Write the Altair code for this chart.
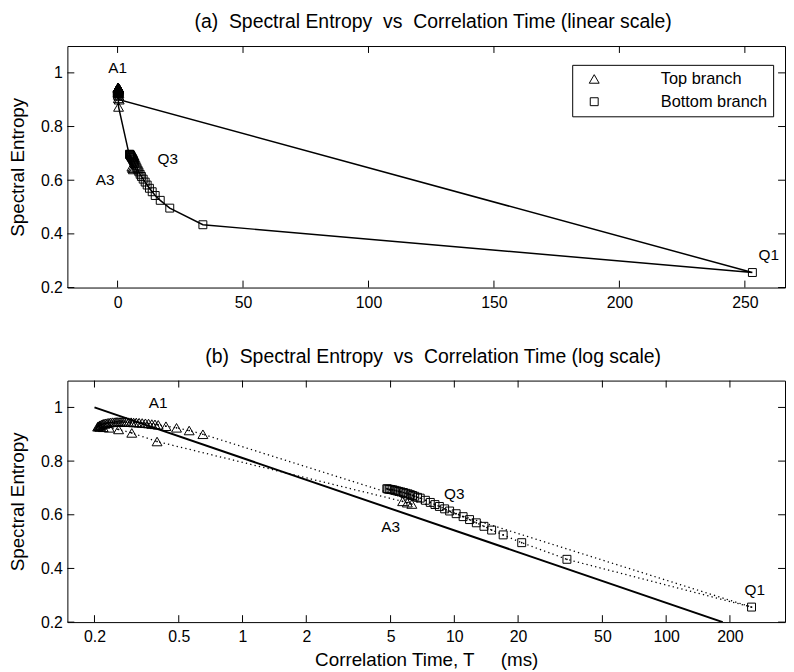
import altair as alt
import pandas as pd

FONT = "Liberation Sans"

# ---- data ----
# Top branch (triangles), in path order: A3 -> lower arc -> A1 cluster -> right end
top_T = [6.3, 6.0, 5.7, 0.395, 0.30, 0.26, 0.235, 0.22, 0.212,
         0.207, 0.209, 0.211, 0.213, 0.216, 0.219, 0.222, 0.226, 0.230, 0.234,
         0.238, 0.243, 0.248, 0.253, 0.258, 0.264, 0.270, 0.276, 0.283, 0.290,
         0.298, 0.306, 0.315, 0.325, 0.336, 0.348, 0.360, 0.373, 0.386, 0.400,
         0.435, 0.488, 0.56, 0.65]
top_S = [0.640, 0.645, 0.650, 0.873, 0.905, 0.918, 0.924, 0.926, 0.927,
         0.928, 0.930, 0.932, 0.934, 0.936, 0.938, 0.940, 0.941, 0.942, 0.943,
         0.944, 0.945, 0.945, 0.946, 0.946, 0.946, 0.946, 0.946, 0.946, 0.945,
         0.945, 0.944, 0.944, 0.943, 0.942, 0.941, 0.940, 0.938, 0.937, 0.935,
         0.930, 0.924, 0.914, 0.900]
# Bottom branch (squares), from Q1 back to Q3
bot_T = [253.0, 34.0, 20.8, 17.0, 15.0, 13.8, 12.7, 11.8, 11.0, 10.2, 9.5, 9.0,
         8.5, 8.1, 7.7, 7.3, 6.9, 6.7, 6.5, 6.35, 6.2, 6.05, 5.9, 5.75, 5.6,
         5.47, 5.35, 5.23, 5.12, 5.02, 4.93, 4.85, 4.8]
bot_S = [0.256, 0.434, 0.496, 0.525, 0.543, 0.557, 0.570, 0.582, 0.593, 0.604,
         0.614, 0.622, 0.631, 0.638, 0.646, 0.654, 0.662, 0.665, 0.669, 0.672,
         0.675, 0.678, 0.680, 0.683, 0.685, 0.687, 0.689, 0.691, 0.693, 0.694,
         0.695, 0.696, 0.697]
# straight reference line of panel (b): two end points
fit_T = [0.2, 185.0]
fit_S = [1.0, 0.2]

branches = ["Top branch", "Bottom branch"]

ann_labels = ["A1", "Q3", "A3", "Q1"]
ann_a_T = [0.0, 20.0, -5.0, 259.5]
ann_a_S = [1.018, 0.678, 0.600, 0.322]
ann_b_T = [0.40, 10.0, 5.0, 262.0]
ann_b_S = [1.016, 0.676, 0.556, 0.320]

xticks_a = [0, 50, 100, 150, 200, 250]
xticks_b = [0.2, 0.5, 1, 2, 5, 10, 20, 50, 100, 200]
yticks = [0.2, 0.4, 0.6, 0.8, 1.0]

# ---- tables ----
pts = pd.DataFrame({
    "T": top_T + bot_T,
    "S": top_S + bot_S,
    "branch": [branches[0]] * len(top_T) + [branches[1]] * len(bot_T),
})
nt = len(top_T)
path = pd.concat([pts.iloc[nt:], pts.iloc[:nt], pts.iloc[nt:nt + 1]], ignore_index=True)
path["seq"] = range(len(path))
fit = pd.DataFrame({"T": fit_T, "S": fit_S})
ann_a = pd.DataFrame({"T": ann_a_T, "S": ann_a_S, "label": ann_labels})
ann_b = pd.DataFrame({"T": ann_b_T, "S": ann_b_S, "label": ann_labels})
xt_a = pd.DataFrame({"T": xticks_a})
xt_b = pd.DataFrame({"T": xticks_b})
yt = pd.DataFrame({"S": yticks})

W, H = 725, 244
TICK = 7

ys = alt.Scale(domain=[0.2, 1.1], nice=False, zero=False)
xs_a = alt.Scale(domain=[-20, 266], nice=False, zero=False)
xs_b = alt.Scale(type="log", domain=[0.149, 364], nice=False)

yaxis = alt.Axis(values=yticks, format=".1~f", ticks=False, tickSize=0, grid=False, domain=False,
                 labelFont=FONT, labelFontSize=16, labelColor="black", labelPadding=5,
                 minExtent=28, maxExtent=28,
                 title="Spectral Entropy", titleFont=FONT, titleFontSize=19,
                 titleFontWeight="normal", titleColor="black", titlePadding=12)


def xaxis(values, title, fmt):
    kw = dict(values=values, ticks=False, tickSize=0, grid=False, domain=False, labelFlush=False,
              labelFont=FONT, labelFontSize=16, labelColor="black", labelPadding=7,
              format=fmt)
    if title:
        kw.update(title=title, titleFont=FONT, titleFontSize=19, titleFontWeight="normal",
                  titleColor="black", titlePadding=6)
    else:
        kw.update(title=None)
    return alt.Axis(**kw)


shape_scale = alt.Scale(domain=branches, range=["triangle-up", "square"])
size_scale = alt.Scale(domain=branches, range=[100, 64])

legend_a = alt.Legend(
    title=None, orient="none", legendX=510, legendY=19, strokeColor="black",
    fillColor="white", padding=6, labelFont=FONT, labelFontSize=16.5,
    labelColor="black", symbolOffset=8, labelOffset=59, symbolStrokeWidth=1,
    symbolStrokeColor="black", symbolFillColor="transparent", rowPadding=6,
    labelExpr="datum.label + '\u00a0\u00a0'", cornerRadius=0)


def tick_layers(X, Y, xt):
    bx = alt.Chart(xt).mark_rule(color="black", strokeWidth=1).encode(
        x=X, y=alt.value(H), y2=alt.value(H - TICK))
    tx = alt.Chart(xt).mark_rule(color="black", strokeWidth=1).encode(
        x=X, y=alt.value(0), y2=alt.value(TICK))
    ly = alt.Chart(yt).mark_rule(color="black", strokeWidth=1).encode(
        y=Y, x=alt.value(0), x2=alt.value(TICK))
    ry = alt.Chart(yt).mark_rule(color="black", strokeWidth=1).encode(
        y=Y, x=alt.value(W), x2=alt.value(W - TICK))
    return [bx, tx, ly, ry]


def panel_title(text):
    return alt.TitleParams(text, font=FONT, fontSize=19.6, fontWeight="normal", color="black",
                           offset=13, anchor="middle", frame="group", dx=7)


# ---- panel (a) ----
xa = alt.X("T:Q", scale=xs_a, axis=xaxis(xticks_a, None, "d"))
ya = alt.Y("S:Q", scale=ys, axis=yaxis)

line_a = alt.Chart(path).mark_line(color="black", strokeWidth=1.5).encode(
    x=xa, y=ya, order="seq:Q")
pts_a = alt.Chart(pts).mark_point(filled=False, color="black", strokeWidth=1, opacity=1).encode(
    x=xa, y=ya,
    shape=alt.Shape("branch:N", scale=shape_scale, sort=branches, legend=legend_a),
    size=alt.Size("branch:N", scale=size_scale, sort=branches, legend=legend_a),
)
txt_a = alt.Chart(ann_a).mark_text(font=FONT, fontSize=15.5, color="black").encode(
    x=xa, y=ya, text="label:N")

panel_a = alt.layer(line_a, pts_a, txt_a, *tick_layers(xa, ya, xt_a)).properties(
    width=W, height=H,
    title=panel_title("(a)\u00a0\u00a0Spectral Entropy\u00a0\u00a0vs\u00a0\u00a0Correlation Time (linear scale)"))

# ---- panel (b) ----
xb = alt.X("T:Q", scale=xs_b,
           axis=xaxis(xticks_b, "Correlation Time, T\u00a0\u00a0\u00a0\u00a0\u00a0(ms)", "~g"))
yb = alt.Y("S:Q", scale=ys, axis=yaxis)

line_b = alt.Chart(path).mark_line(color="black", strokeWidth=1.3, strokeDash=[1.3, 3.2]).encode(
    x=xb, y=yb, order="seq:Q")
fit_b = alt.Chart(fit).mark_line(color="black", strokeWidth=2, clip=True).encode(x=xb, y=yb)
pts_b = alt.Chart(pts).mark_point(filled=False, color="black", strokeWidth=1, opacity=1).encode(
    x=xb, y=yb,
    shape=alt.Shape("branch:N", scale=shape_scale, sort=branches, legend=None),
    size=alt.Size("branch:N", scale=size_scale, sort=branches, legend=None),
)
dots_b = alt.Chart(pts).mark_circle(color="black", size=3, opacity=1).encode(x=xb, y=yb)
txt_b = alt.Chart(ann_b).mark_text(font=FONT, fontSize=15.5, color="black").encode(
    x=xb, y=yb, text="label:N")

panel_b = alt.layer(line_b, fit_b, pts_b, dots_b, txt_b, *tick_layers(xb, yb, xt_b)).properties(
    width=W, height=H,
    title=panel_title("(b)\u00a0\u00a0Spectral Entropy\u00a0\u00a0vs\u00a0\u00a0Correlation Time (log scale)"))

chart = alt.vconcat(panel_a, panel_b, spacing=35).resolve_scale(
    x="independent"
).resolve_legend(shape="independent", size="independent").properties(
    padding={"left": 0, "top": 0, "right": 0, "bottom": 0}, background="white"
).configure_view(stroke="black", strokeWidth=1)

chart.save("out.html", embed_options={"renderer": "svg", "actions": False})
